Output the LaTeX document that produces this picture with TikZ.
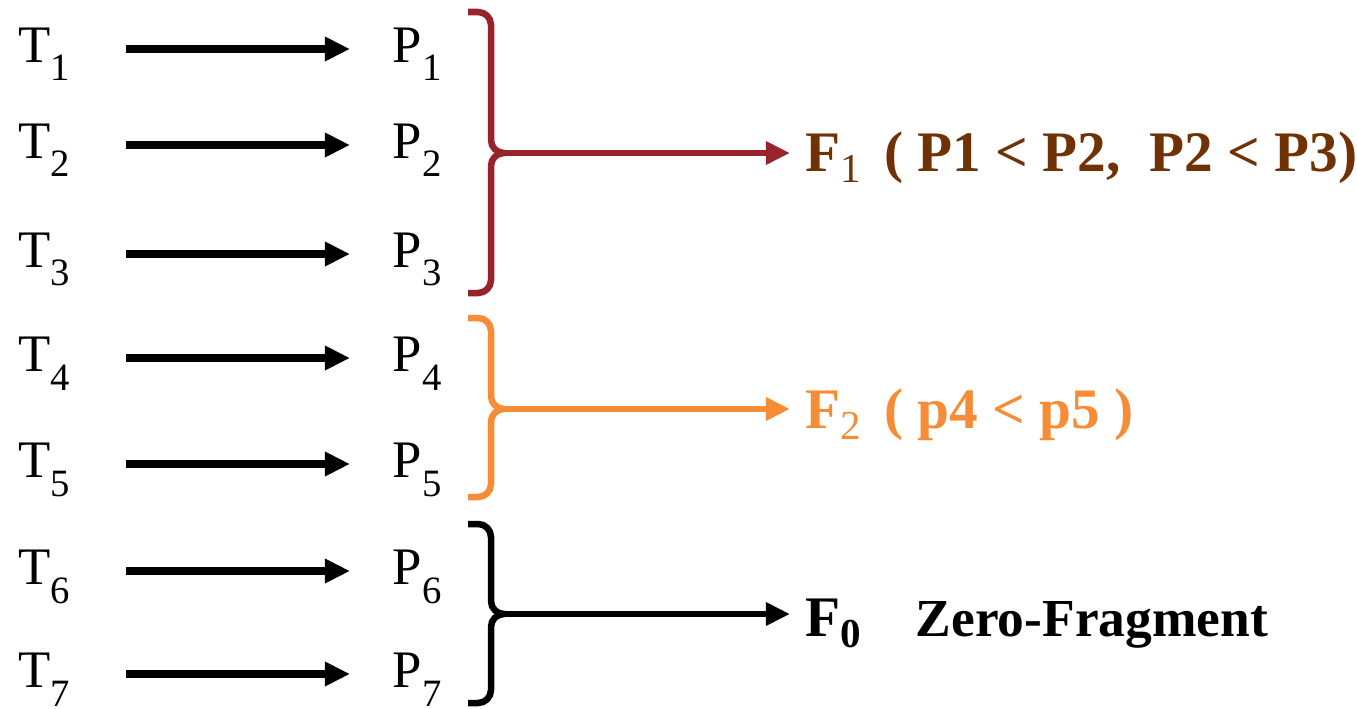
\documentclass[tikz,border=0pt]{standalone}
\usepackage{fontspec}
\setmainfont{Liberation Serif}
\usepackage{tikz}
\usetikzlibrary{arrows.meta,positioning,calc}
\definecolor{bracered}{RGB}{150,36,42}
\definecolor{labelbrown}{RGB}{112,50,4}
\definecolor{fragorange}{RGB}{247,140,55}
\newcommand{\tsub}[1]{\raisebox{-5.4pt}{\fontsize{11}{12}\selectfont #1}}
\newcommand{\fsub}[1]{\raisebox{-3.4pt}{\fontsize{11.7}{12}\selectfont\mdseries #1}}

\begin{document}
\begin{tikzpicture}[x=0.01cm,y=-0.01cm]
  \tikzset{
    item/.style={anchor=west, inner sep=0pt, text height=0.36cm, text depth=0.1cm, font=\fontsize{15}{18}\selectfont},
    map/.style={-{Triangle[length=0.25cm,width=0.23cm]}, black, line width=0.08cm, shorten <=0.55cm, shorten >=0.42cm},
    brace/.style={line width=0.065cm},
    frag/.style={-{Triangle[length=0.24cm,width=0.22cm]}, line width=0.06cm, shorten >=0.15cm},
    flabel/.style={anchor=base west, inner sep=0pt, font=\fontsize{16.3}{19}\selectfont\bfseries}
  }

  \useasboundingbox (0,0) rectangle (1357,709);

  % X positions
  \def\xT{18}
  \def\xP{392}

  % Transactions
  \node[item] (t1) at (\xT,49) {T\tsub{1}};
  \node[item] (t2) at (\xT,145) {T\tsub{2}};
  \node[item] (t3) at (\xT,254) {T\tsub{3}};
  \node[item] (t4) at (\xT,358) {T\tsub{4}};
  \node[item] (t5) at (\xT,464) {T\tsub{5}};
  \node[item] (t6) at (\xT,571) {T\tsub{6}};
  \node[item] (t7) at (\xT,674) {T\tsub{7}};

  % Partitions
  \node[item] (p1) at (\xP,49) {P\tsub{1}};
  \node[item] (p2) at (\xP,145) {P\tsub{2}};
  \node[item] (p3) at (\xP,254) {P\tsub{3}};
  \node[item] (p4) at (\xP,358) {P\tsub{4}};
  \node[item] (p5) at (\xP,464) {P\tsub{5}};
  \node[item] (p6) at (\xP,571) {P\tsub{6}};
  \node[item] (p7) at (\xP,674) {P\tsub{7}};

  % Mappings
  \draw[map] (t1) -- (p1);
  \draw[map] (t2) -- (p2);
  \draw[map] (t3) -- (p3);
  \draw[map] (t4) -- (p4);
  \draw[map] (t5) -- (p5);
  \draw[map] (t6) -- (p6);
  \draw[map] (t7) -- (p7);

  % Braces
  \draw[brace, bracered] (468,12) -- (478,12) to[out=0,in=90] (491,25) -- (491,140)
    to[out=-90,in=180] (504,153) coordinate (c1) to[out=180,in=90] (491,166) -- (491,280)
    to[out=-90,in=0] (478,293) -- (468,293);
  \draw[brace, fragorange] (468,318) -- (478,318) to[out=0,in=90] (491,331) -- (491,396)
    to[out=-90,in=180] (504,409) coordinate (c2) to[out=180,in=90] (491,422) -- (491,484)
    to[out=-90,in=0] (478,497) -- (468,497);
  \draw[brace, black] (468,524) -- (478,524) to[out=0,in=90] (491,537) -- (491,601)
    to[out=-90,in=180] (504,614) coordinate (c3) to[out=180,in=90] (491,627) -- (491,690)
    to[out=-90,in=0] (478,703) -- (468,703);

  % Fragments
  \node[flabel, text=labelbrown] (f1) at (805,171) {F\fsub{1}\hspace{0.4em}( P1 < P2,~ P2 < P3)};
  \node[flabel, text=fragorange] (f2) at (805,428) {F\fsub{2}\hspace{0.4em}( p4 < p5 )};
  \node[flabel, text=black] (f0) at (805,636) {F\fsub{\bfseries 0}\hspace{0.95em}{\fontsize{15.2}{18}\selectfont Zero-Fragment}};

  \draw[frag, bracered] (c1) -- (c1 -| f1.west);
  \draw[frag, fragorange] (c2) -- (c2 -| f2.west);
  \draw[frag, black] (c3) -- (c3 -| f0.west);

\end{tikzpicture}
\end{document}
